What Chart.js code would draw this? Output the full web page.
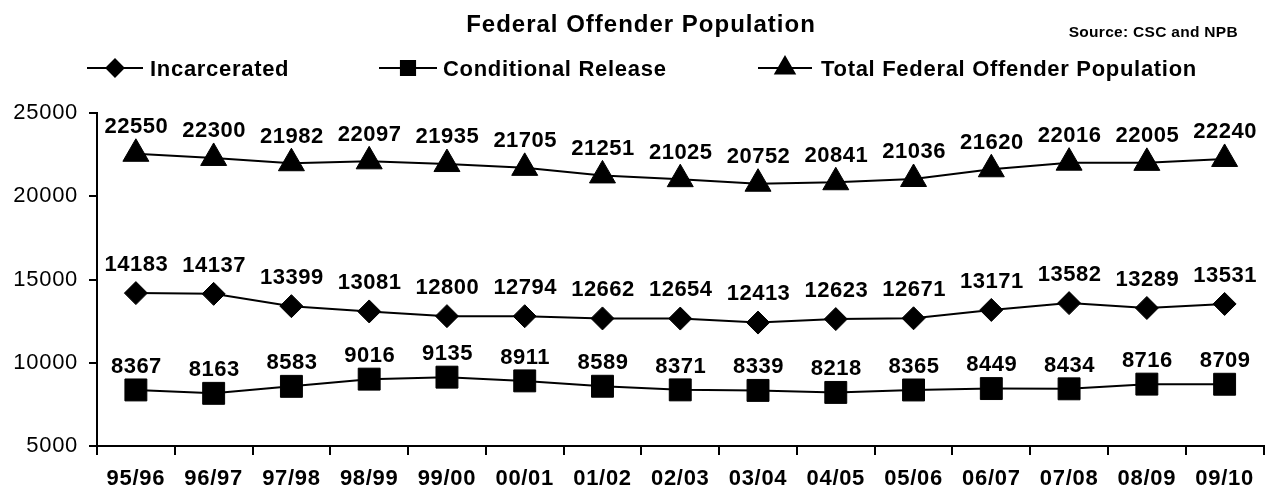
<!DOCTYPE html>
<html>
<head>
<meta charset="utf-8">
<script src="https://cdn.jsdelivr.net/npm/chart.js@4/dist/chart.umd.min.js"></script>
<style>
  html, body { margin: 0; padding: 0; background: #fff; }
  #wrap { width: 1280px; height: 494px; }
</style>
</head>
<body>
<div id="wrap"><canvas id="c" width="1280" height="494"></canvas></div>
<script>
const categories = ['95/96','96/97','97/98','98/99','99/00','00/01','01/02','02/03','03/04','04/05','05/06','06/07','07/08','08/09','09/10'];
const incarcerated = [14183,14137,13399,13081,12800,12794,12662,12654,12413,12623,12671,13171,13582,13289,13531];
const conditionalRelease = [8367,8163,8583,9016,9135,8911,8589,8371,8339,8218,8365,8449,8434,8716,8709];
const totalPopulation = [22550,22300,21982,22097,21935,21705,21251,21025,20752,20841,21036,21620,22016,22005,22240];
const yMin = 5000, yMax = 25000, yStep = 5000;
const titleText = 'Federal Offender Population';
const sourceText = 'Source: CSC and NPB';
const seriesNames = ['Incarcerated', 'Conditional Release', 'Total Federal Offender Population'];

const FONT = "'Liberation Sans', Arial, Helvetica, sans-serif";
const TICK_SPACING = '0.7px';

const spacingPlugin = {
  id: 'spacing',
  beforeLayout(chart) { chart.ctx.letterSpacing = TICK_SPACING; },
  beforeDraw(chart) { chart.ctx.letterSpacing = TICK_SPACING; }
};

const decorPlugin = {
  id: 'decor',
  afterDatasetsDraw(chart) {
    const ctx = chart.ctx;
    ctx.save();
    ctx.fillStyle = '#000';
    ctx.font = 'bold 22px ' + FONT;
    ctx.letterSpacing = '0.5px';
    ctx.textAlign = 'center';
    ctx.textBaseline = 'alphabetic';
    chart.data.datasets.forEach((ds, i) => {
      const meta = chart.getDatasetMeta(i);
      meta.data.forEach((pt, j) => {
        ctx.fillText(String(ds.data[j]), pt.x + 0.5, pt.y - ds.labelOffset + 7.9);
      });
    });
    ctx.restore();
  },
  afterDraw(chart) {
    const ctx = chart.ctx;
    ctx.save();
    ctx.fillStyle = '#000';
    ctx.textBaseline = 'alphabetic';
    // title
    ctx.font = 'bold 24px ' + FONT;
    ctx.letterSpacing = '1px';
    ctx.textAlign = 'center';
    ctx.fillText(titleText, 641, 32);
    // source
    ctx.font = 'bold 15.5px ' + FONT;
    ctx.letterSpacing = '0.3px';
    ctx.textAlign = 'right';
    ctx.fillText(sourceText, 1238, 37);
    // legend
    const items = [
      { x0: 87, x1: 143, style: 'rectRot', r: 8.5, tx: 150 },
      { x0: 379, x1: 437, style: 'rect', r: 10, tx: 443 },
      { x0: 758, x1: 812, style: 'triangle', r: 11, tx: 821 }
    ];
    const ly = 68;
    ctx.font = 'bold 22px ' + FONT;
    ctx.letterSpacing = '0.7px';
    ctx.textAlign = 'left';
    items.forEach((it, i) => {
      ctx.strokeStyle = '#000';
      ctx.lineWidth = 2;
      ctx.beginPath();
      ctx.moveTo(it.x0, ly);
      ctx.lineTo(it.x1, ly);
      ctx.stroke();
      Chart.helpers.drawPoint(ctx, { pointStyle: it.style, radius: it.r, borderWidth: 1, rotation: 0 }, (it.x0 + it.x1) / 2, ly);
      ctx.fillStyle = '#000';
      ctx.fill();
      ctx.fillText(seriesNames[i], it.tx, 76);
    });
    ctx.restore();
  }
};

const common = {
  borderColor: '#000',
  borderWidth: 2,
  pointBackgroundColor: '#000',
  pointBorderColor: '#000',
  pointBorderWidth: 1,
  tension: 0,
  fill: false,
  clip: false
};

new Chart(document.getElementById('c'), {
  type: 'line',
  data: {
    labels: categories,
    datasets: [
      Object.assign({ label: seriesNames[0], data: incarcerated, pointStyle: 'rectRot', pointRadius: 11.5, pointHoverRadius: 11.5, labelOffset: 30 }, common),
      Object.assign({ label: seriesNames[1], data: conditionalRelease, pointStyle: 'rect', pointRadius: 15.5, pointHoverRadius: 15.5, labelOffset: 25 }, common),
      Object.assign({ label: seriesNames[2], data: totalPopulation, pointStyle: 'triangle', pointRadius: 15, pointHoverRadius: 15, labelOffset: 28.5 }, common)
    ]
  },
  options: {
    responsive: false,
    devicePixelRatio: 1,
    animation: false,
    events: [],
    layout: { padding: { top: 113, right: 6, left: 0, bottom: 0 } },
    plugins: {
      legend: { display: false },
      title: { display: false },
      tooltip: { enabled: false }
    },
    scales: {
      x: {
        type: 'category',
        offset: true,
        grid: { display: true, drawOnChartArea: false, drawTicks: true, tickLength: 9, color: '#000', lineWidth: 2, offset: true },
        border: { display: true, color: '#000', width: 2 },
        ticks: { color: '#000', font: { family: FONT, weight: 'bold', size: 22 }, padding: 11, maxRotation: 0, autoSkip: false },
        afterFit(s) { s.height = 48; }
      },
      y: {
        min: yMin,
        max: yMax,
        grid: { display: true, drawOnChartArea: false, drawTicks: true, tickLength: 8, color: '#000', lineWidth: 2 },
        border: { display: true, color: '#000', width: 2 },
        ticks: { stepSize: yStep, color: '#000', font: { family: FONT, size: 22 }, padding: 11, callback: v => String(v) },
        afterFit(s) { s.width = 97; }
      }
    }
  },
  plugins: [spacingPlugin, decorPlugin]
});
</script>
</body>
</html>
